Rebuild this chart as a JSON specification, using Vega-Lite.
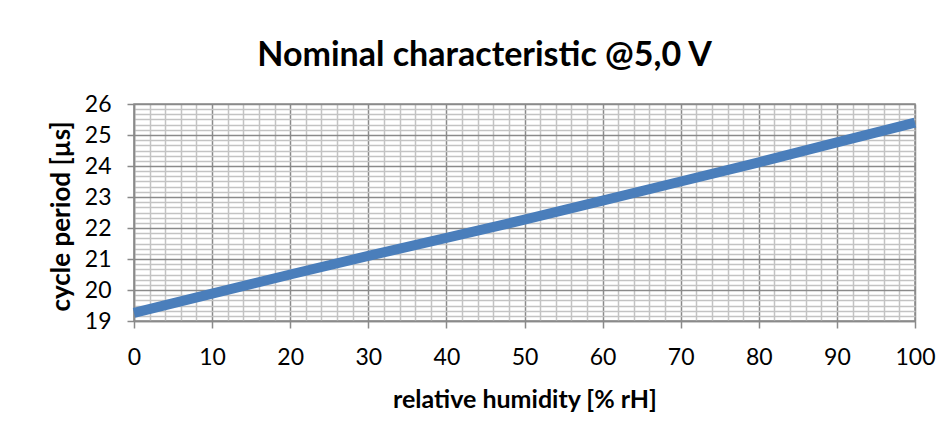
{
  "$schema": "https://vega.github.io/schema/vega-lite/v6.json",
  "width": 781,
  "height": 217,
  "autosize": {"type": "none"},
  "padding": {"left": 134, "top": 104, "right": 37, "bottom": 120},
  "background": "white",
  "title": {
    "text": "Nominal characteristic @5,0 V",
    "fontSize": 34,
    "font": "Lato",
    "fontWeight": "bold",
    "color": "#000000",
    "anchor": "middle",
    "frame": "group",
    "dx": -40,
    "offset": 20
  },
  "config": {
    "view": {"stroke": "#8a8a8a", "strokeWidth": 1.5},
    "font": "Lato"
  },
  "data": {
    "values": [
      {"rh": 0, "period": 19.26},
      {"rh": 10, "period": 19.88},
      {"rh": 20, "period": 20.5},
      {"rh": 30, "period": 21.1},
      {"rh": 40, "period": 21.68},
      {"rh": 50, "period": 22.27},
      {"rh": 60, "period": 22.88},
      {"rh": 70, "period": 23.5},
      {"rh": 80, "period": 24.12},
      {"rh": 90, "period": 24.76},
      {"rh": 100, "period": 25.4}
    ]
  },
  "layer": [
    {
      "mark": {"type": "line", "strokeOpacity": 0},
      "encoding": {
        "x": {
          "field": "rh", "type": "quantitative",
          "scale": {"domain": [0, 100], "nice": false, "zero": false},
          "axis": {
            "orient": "bottom",
            "values": [2,4,6,8,12,14,16,18,22,24,26,28,32,34,36,38,42,44,46,48,52,54,56,58,62,64,66,68,72,74,76,78,82,84,86,88,92,94,96,98],
            "grid": true, "gridColor": "#c3c3c3", "gridWidth": 1.5, "gridOpacity": 1,
            "labels": false, "ticks": false, "domain": false, "title": null
          }
        },
        "y": {
          "field": "period", "type": "quantitative",
          "scale": {"domain": [19, 26], "nice": false, "zero": false},
          "axis": {
            "orient": "left",
            "values": [19.1667,19.3333,19.5,19.6667,19.8333,20.1667,20.3333,20.5,20.6667,20.8333,21.1667,21.3333,21.5,21.6667,21.8333,22.1667,22.3333,22.5,22.6667,22.8333,23.1667,23.3333,23.5,23.6667,23.8333,24.1667,24.3333,24.5,24.6667,24.8333,25.1667,25.3333,25.5,25.6667,25.8333],
            "grid": true, "gridColor": "#c3c3c3", "gridWidth": 1.5, "gridOpacity": 1,
            "labels": false, "ticks": false, "domain": false, "title": null
          }
        }
      }
    },
    {
      "mark": {"type": "line", "color": "#4a7ebb", "strokeWidth": 10, "strokeCap": "butt"},
      "encoding": {
        "x": {
          "field": "rh", "type": "quantitative",
          "scale": {"domain": [0, 100], "nice": false, "zero": false},
          "axis": {
            "orient": "bottom",
            "values": [0,10,20,30,40,50,60,70,80,90,100],
            "grid": true, "gridColor": "#8a8a8a", "gridWidth": 1.5, "gridOpacity": 1,
            "domain": true, "domainColor": "#8a8a8a", "domainWidth": 1.5,
            "ticks": true, "tickColor": "#8a8a8a", "tickSize": 7, "tickWidth": 1.5,
            "labelFontSize": 23, "labelColor": "#000000", "labelPadding": 18, "labelFont": "Lato",
            "labelFlush": false, "labelOverlap": false,
            "title": "relative humidity [% rH]",
            "titleFontSize": 25, "titleFont": "Lato", "titleFontWeight": "bold", "titleColor": "#000000", "titlePadding": 18
          }
        },
        "y": {
          "field": "period", "type": "quantitative",
          "scale": {"domain": [19, 26], "nice": false, "zero": false},
          "axis": {
            "orient": "left",
            "values": [19,20,21,22,23,24,25,26],
            "grid": true, "gridColor": "#8a8a8a", "gridWidth": 1.5, "gridOpacity": 1,
            "domain": true, "domainColor": "#8a8a8a", "domainWidth": 1.5,
            "ticks": true, "tickColor": "#8a8a8a", "tickSize": 7, "tickWidth": 1.5,
            "labelFontSize": 23, "labelColor": "#000000", "labelPadding": 16, "labelFont": "Lato",
            "labelFlush": false, "labelOverlap": false,
            "title": "cycle period [µs]",
            "titleFontSize": 26, "titleFont": "Lato", "titleFontWeight": "bold", "titleColor": "#000000", "titlePadding": 10,
            "titleY": 112
          }
        }
      }
    }
  ],
  "resolve": {"axis": {"x": "independent", "y": "independent"}}
}
